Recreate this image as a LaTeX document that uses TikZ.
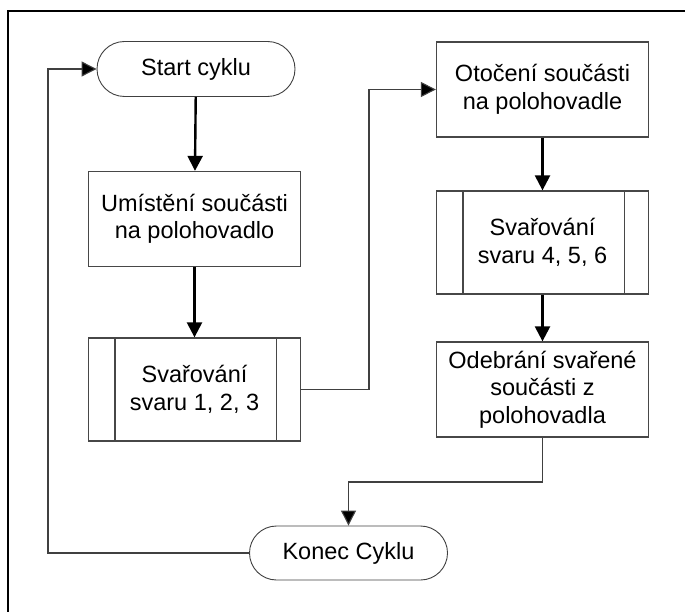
\documentclass[tikz,border=0pt]{standalone}
\usepackage{fontspec}
\setmainfont{Liberation Sans}
\usetikzlibrary{arrows.meta}
\begin{document}
\begin{tikzpicture}[x=1pt,y=-1pt,
  every node/.style={font=\fontsize{23.5}{27.5}\selectfont, align=center, text=black, inner sep=0pt},
  terminal/.style={draw=black!75, line width=0.9pt, minimum width=198pt, minimum height=55pt, rounded corners=27.5pt},
  process/.style={draw=black!72, line width=1.3pt, minimum width=212pt, minimum height=95pt},
  predef/.style={process, minimum height=103pt},
  flow/.style={line width=2.4pt, -{Triangle[length=15pt,width=15pt]}},
  link/.style={draw=black!75, line width=1.1pt, -{Triangle[length=15pt,width=15pt,fill=black]}},
  plain/.style={draw=black!75, line width=1.1pt}]
  \useasboundingbox (0,0) rectangle (685,612);
  % page frame (top and left edges)
  \draw[line width=1.8pt] (8,612) -- (8,11) -- (685,11);

  % nodes
  \node[terminal] (start) at (196,69) {Start cyklu};
  \node[process] (place) at (194.5,219) {Umístění součásti\\na polohovadlo};
  \node[predef] (weld1) at (194.5,389.5) {Svařování\\svaru 1, 2, 3};
  \node[process] (turn) at (542.5,89.5) {Otočení součásti\\na polohovadle};
  \node[predef] (weld2) at (542.5,242.5) {Svařování\\svaru 4, 5, 6};
  \node[process] (remove) at (542.5,389.5) {Odebrání svařené\\součásti z\\polohovadla};
  \node[terminal, minimum height=54pt, rounded corners=27pt] (stop) at (348.5,553) {Konec Cyklu};

  % inner bars of the predefined-process boxes
  \foreach \n in {weld1,weld2}{
    \draw[black!72, line width=1.3pt] ([xshift=27pt]\n.north west) -- ([xshift=27pt]\n.south west);
    \draw[black!72, line width=1.3pt] ([xshift=-25pt]\n.north east) -- ([xshift=-25pt]\n.south east);
  }

  % routing points
  \coordinate (j1) at (369,0);
  \coordinate (j2) at (0,482);
  \coordinate (j3) at (48,0);

  % connectors
  \draw[flow] (start) -- (place);
  \draw[flow] (place) -- (weld1);
  \draw[link] (weld1.east) -- (weld1.east -| j1) |- (turn.west);
  \draw[flow] (turn) -- (weld2);
  \draw[flow] (weld2) -- (remove);
  \draw[link] (remove.south) -- (remove.south |- j2) -| (stop.north);
  \draw[link] (stop.west) -- (stop.west -| j3) |- (start.west);
\end{tikzpicture}
\end{document}
